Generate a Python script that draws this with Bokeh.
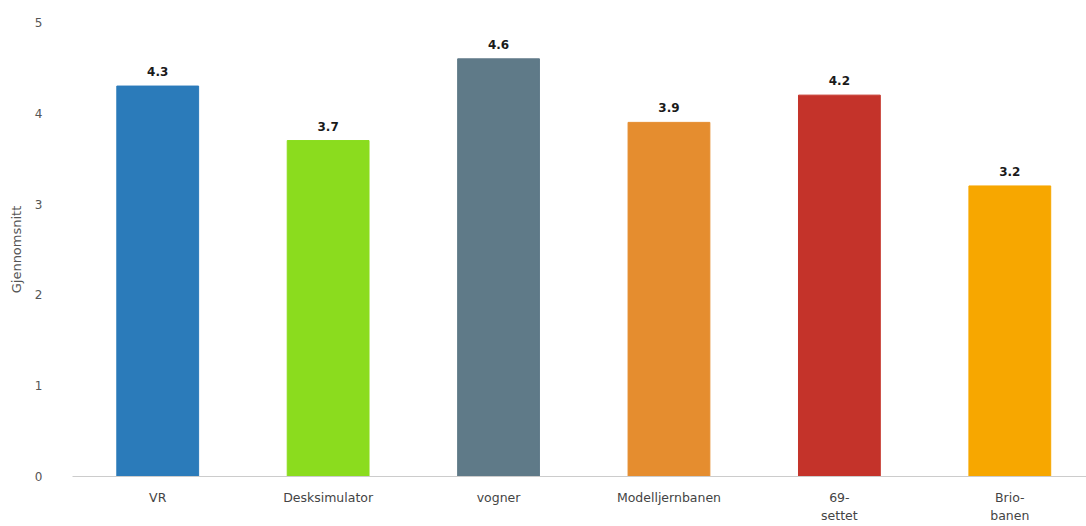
from bokeh.plotting import figure
from bokeh.models import ColumnDataSource, Range1d, FixedTicker, LabelSet
from bokeh.core.properties import value
from bokeh.embed import file_html
from bokeh.resources import INLINE

categories = ["VR", "Desksimulator", "vogner", "Modelljernbanen", "69-\nsettet", "Brio-\nbanen"]
values = [4.3, 3.7, 4.6, 3.9, 4.2, 3.2]
value_labels = ["4.3", "3.7", "4.6", "3.9", "4.2", "3.2"]
colors = ["#2b7bba", "#8bdc1e", "#5f7a88", "#e58d2f", "#c4332a", "#f7a700"]
y_ticks = [0, 1, 2, 3, 4, 5]

positions = list(range(len(categories)))
src = ColumnDataSource(dict(x=positions, val=values, lab=value_labels, col=colors))

p = figure(width=1086, height=526, output_backend="svg",
           toolbar_location=None, min_border_left=72, min_border_right=0,
           min_border_top=22, min_border_bottom=48)
p.x_range = Range1d(-0.5, 5.45)
p.y_range = Range1d(0, 5)
p.vbar(x="x", top="val", width=0.48, color="col", source=src)

labels = LabelSet(x="x", y="val", text="lab", source=src, text_align="center",
                  text_baseline="bottom", y_offset=10, text_font=value("DejaVu Sans"),
                  text_font_style="bold", text_font_size="12px", text_color="#1a1a1a")
p.add_layout(labels)

p.outline_line_color = None
p.xgrid.grid_line_color = None
p.ygrid.grid_line_color = None
p.background_fill_color = "white"
p.border_fill_color = "white"

p.yaxis.ticker = FixedTicker(ticks=y_ticks)
p.yaxis.axis_line_color = None
p.yaxis.major_tick_line_color = None
p.yaxis.minor_tick_line_color = None
p.yaxis.major_label_text_font = "DejaVu Sans"
p.yaxis.major_label_text_font_size = "12px"
p.yaxis.major_label_text_color = "#555555"
p.yaxis.major_label_standoff = 24
p.yaxis.axis_label = "Gjennomsnitt"
p.yaxis.axis_label_text_font = "DejaVu Sans"
p.yaxis.axis_label_text_font_style = "normal"
p.yaxis.axis_label_text_font_size = "13px"
p.yaxis.axis_label_text_color = "#555555"
p.yaxis.axis_label_standoff = 8

p.xaxis.ticker = FixedTicker(ticks=positions)
p.xaxis.major_label_overrides = {i: c for i, c in zip(positions, categories)}
p.xaxis.axis_line_color = "#cccccc"
p.xaxis.major_tick_line_color = None
p.xaxis.minor_tick_line_color = None
p.xaxis.major_label_text_font = "DejaVu Sans"
p.xaxis.major_label_text_font_size = "12.5px"
p.xaxis.major_label_text_color = "#444444"
p.xaxis.major_label_text_line_height = 1.25
p.xaxis.major_label_standoff = 7

open("out.html", "w").write(file_html(p, INLINE))
